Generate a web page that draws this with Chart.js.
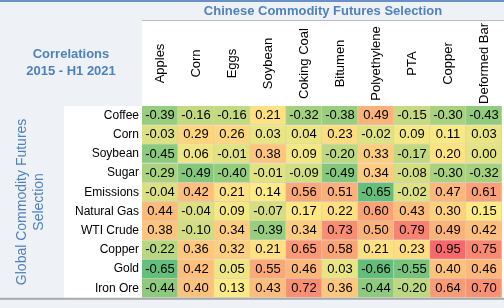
<!DOCTYPE html>
<html lang="en">
<head>
<meta charset="UTF-8">
<title>Correlations 2015 - H1 2021</title>
<style>
  body { margin: 0; background: #fff; }
  canvas { display: block; }
</style>
</head>
<body>
<canvas id="heat" width="504" height="308"></canvas>

<script src="https://cdn.jsdelivr.net/npm/chart.js"></script>
<script>
  // columns / rows
  const chineseFutures = ['Apples', 'Corn', 'Eggs', 'Soybean', 'Coking Coal', 'Bitumen', 'Polyethylene', 'PTA', 'Copper', 'Deformed Bar'];
  const globalFutures = ['Coffee', 'Corn', 'Soybean', 'Sugar', 'Emissions', 'Natural Gas', 'WTI Crude', 'Copper', 'Gold', 'Iron Ore'];

  // correlations, one array per global commodity
  const coffee     = [-0.39, -0.16, -0.16,  0.21, -0.32, -0.38,  0.49, -0.15, -0.30, -0.43];
  const corn       = [-0.03,  0.29,  0.26,  0.03,  0.04,  0.23, -0.02,  0.09,  0.11,  0.03];
  const soybean    = [-0.45,  0.06, -0.01,  0.38,  0.09, -0.20,  0.33, -0.17,  0.20,  0.00];
  const sugar      = [-0.29, -0.49, -0.40, -0.01, -0.09, -0.49,  0.34, -0.08, -0.30, -0.32];
  const emissions  = [-0.04,  0.42,  0.21,  0.14,  0.56,  0.51, -0.65, -0.02,  0.47,  0.61];
  const naturalGas = [ 0.44, -0.04,  0.09, -0.07,  0.17,  0.22,  0.60,  0.43,  0.30,  0.15];
  const wtiCrude   = [ 0.38, -0.10,  0.34, -0.39,  0.34,  0.73,  0.50,  0.79,  0.49,  0.42];
  const copper     = [-0.22,  0.36,  0.32,  0.21,  0.65,  0.58,  0.21,  0.23,  0.95,  0.75];
  const gold       = [-0.65,  0.42,  0.05,  0.55,  0.46,  0.03, -0.66, -0.55,  0.40,  0.46];
  const ironOre    = [-0.44,  0.40,  0.13,  0.43,  0.72,  0.36, -0.44, -0.20,  0.64,  0.70];

  const rows = [coffee, corn, soybean, sugar, emissions, naturalGas, wtiCrude, copper, gold, ironOre];

  const FONT = '"Liberation Sans", Arial, sans-serif';
  const BLUE = '#4f81bd';

  // 3 colour scale: green (min) - yellow (median) - red (max)
  const GREEN = [99, 190, 123], YELLOW = [255, 235, 132], RED = [248, 105, 107];
  const allVals = rows.flat().slice().sort((a, b) => a - b);
  const lo = allVals[0], hi = allVals[allVals.length - 1];
  const mid = (allVals[49] + allVals[50]) / 2;

  function cellColor(v) {
    let a, b, t;
    if (v <= mid) { a = GREEN; b = YELLOW; t = (v - lo) / (mid - lo); }
    else { a = YELLOW; b = RED; t = (v - mid) / (hi - mid); }
    const c = a.map((x, i) => Math.round(x + (b[i] - x) * t));
    return `rgb(${c[0]},${c[1]},${c[2]})`;
  }

  const datasets = chineseFutures.map((name, c) => ({
    label: name,
    data: globalFutures.map(() => [c, c + 1]),
    backgroundColor: rows.map(r => cellColor(r[c])),
    borderColor: '#cfcfcf',
    borderWidth: { top: 0, left: 0, right: 1, bottom: 1 },
    borderSkipped: false,
    grouped: false,
    barPercentage: 1,
    categoryPercentage: 1
  }));

  const frame = {
    id: 'frame',
    beforeDraw(chart) {
      const ctx = chart.ctx;
      const area = chart.chartArea;
      ctx.save();
      ctx.fillStyle = '#eef2f7';
      ctx.fillRect(0, 0, chart.width, chart.height);
      ctx.fillStyle = '#fff';
      ctx.fillRect(area.left, 21, chart.width - area.left, area.top - 21);
      ctx.fillRect(64, area.top, chart.width - 64, area.bottom - area.top);

      ctx.fillStyle = '#6a91c4';
      ctx.fillRect(0, 0, chart.width, 2);
      ctx.fillStyle = '#b9bdc4';
      ctx.fillRect(area.left, 20, chart.width - area.left, 1);

      ctx.fillStyle = BLUE;
      ctx.textAlign = 'center';
      ctx.textBaseline = 'middle';
      ctx.font = 'bold 13px ' + FONT;
      ctx.fillText('Chinese Commodity Futures Selection', (area.left + chart.width) / 2, 11);
      ctx.fillText('Correlations', 71, 54);
      ctx.fillText('2015 - H1 2021', 71, 71);

      ctx.font = '14px ' + FONT;
      ctx.translate(31, (area.top + area.bottom) / 2);
      ctx.rotate(-Math.PI / 2);
      ctx.fillText('Global Commodity Futures', 0, -8.5);
      ctx.fillText('Selection', 0, 8.5);
      ctx.restore();
    },
    afterDatasetsDraw(chart) {
      const ctx = chart.ctx;
      ctx.save();
      ctx.font = '13px ' + FONT;
      ctx.fillStyle = '#000';
      ctx.textAlign = 'center';
      ctx.textBaseline = 'middle';
      chart.data.datasets.forEach((ds, c) => {
        chart.getDatasetMeta(c).data.forEach((bar, r) => {
          ctx.fillText(rows[r][c].toFixed(2), (bar.x + bar.base) / 2, bar.y);
        });
      });
      ctx.restore();
    },
    afterDraw(chart) {
      const ctx = chart.ctx;
      const area = chart.chartArea;
      const xs = chart.scales.x;
      ctx.save();
      // column headers, rotated and centred in the header band
      ctx.beginPath();
      ctx.rect(area.left, 21, chart.width - area.left, area.top - 21);
      ctx.clip();
      ctx.font = '13px ' + FONT;
      ctx.fillStyle = '#000';
      ctx.textAlign = 'center';
      ctx.textBaseline = 'middle';
      const midY = (21 + area.top) / 2;
      chineseFutures.forEach((name, c) => {
        ctx.save();
        ctx.translate(xs.getPixelForValue(c + 0.5), midY);
        ctx.rotate(-Math.PI / 2);
        ctx.fillText(name, 0, 0);
        ctx.restore();
      });
      ctx.restore();

      ctx.save();
      ctx.fillStyle = '#a9a9a9';
      ctx.fillRect(0, area.bottom, chart.width, 2);
      ctx.restore();
    }
  };

  new Chart(document.getElementById('heat'), {
    type: 'bar',
    data: { labels: globalFutures, datasets: datasets },
    options: {
      indexAxis: 'y',
      responsive: false,
      animation: false,
      devicePixelRatio: 1,
      layout: { padding: { left: 0, top: 106, right: 2, bottom: 2 } },
      plugins: {
        legend: { display: false },
        tooltip: { enabled: false }
      },
      scales: {
        x: { type: 'linear', min: 0, max: 10, display: false },
        y: {
          type: 'category',
          grid: { display: false, drawTicks: false },
          border: { display: false },
          ticks: { color: '#000', padding: 3, font: { family: FONT, size: 12 } },
          afterFit(scale) { scale.width = 142; }
        }
      }
    },
    plugins: [frame]
  });
</script>
</body>
</html>
